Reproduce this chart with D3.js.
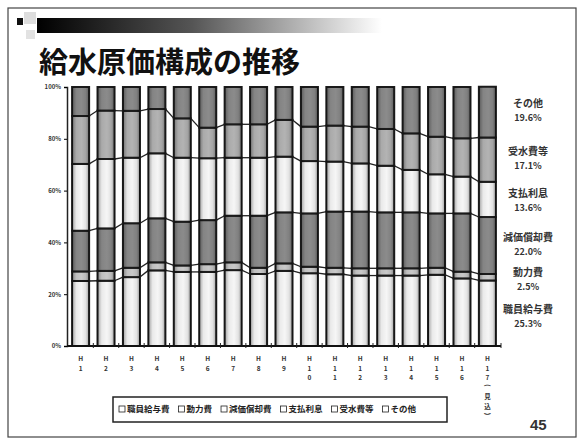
<!doctype html>
<meta charset="utf-8">
<style>
body { margin: 0; background: #fff; }
#chart text { font-family: "Noto Sans CJK JP", "Noto Sans", sans-serif; }
</style>
<div id="chart"></div>
<script src="https://cdn.jsdelivr.net/npm/d3@7/dist/d3.min.js"></script>
<script>
// 年度 (平成)
var years = ["H1", "H2", "H3", "H4", "H5", "H6", "H7", "H8", "H9",
    "H10", "H11", "H12", "H13", "H14", "H15", "H16", "H17(見込)"];
var seriesNames = ["職員給与費", "動力費", "減価償却費", "支払利息", "受水費等", "その他"];

// 構成比 (%)
var salary = [25.1, 25.2, 26.6, 29.2, 28.6, 28.6, 29.3, 27.8, 29.0, 28.1, 27.7, 27.2, 27.2, 27.2, 27.5, 26.1, 25.3];
var power = [3.7, 3.8, 3.6, 3.1, 2.5, 3.0, 3.0, 2.4, 2.9, 2.5, 2.5, 2.8, 2.8, 2.8, 2.7, 2.6, 2.5];
var depreciation = [15.7, 16.4, 17.2, 17.0, 16.9, 17.0, 18.0, 20.1, 19.7, 20.6, 21.7, 21.9, 21.6, 21.6, 21.0, 22.5, 22.0];
var interest = [25.8, 26.8, 25.3, 25.1, 24.7, 23.9, 22.4, 22.4, 21.5, 20.2, 19.3, 18.6, 18.0, 16.4, 15.1, 14.2, 13.6];
var purchasedWater = [18.5, 18.7, 18.1, 17.1, 15.2, 11.8, 12.9, 12.9, 14.2, 13.3, 13.9, 14.2, 14.2, 14.1, 14.5, 14.8, 17.1];
var other = [11.2, 9.1, 9.2, 8.5, 12.1, 15.7, 14.4, 14.4, 12.7, 15.3, 14.9, 15.3, 16.2, 17.9, 19.2, 19.8, 19.6];

var yTicks = [0, 20, 40, 60, 80, 100];
</script>
<script>
var width = 580, height = 443;
var fills = ["#f6f6f6", "#c9c9c9", "#8b8b8b", "#f6f6f6", "#b3b3b3", "#8b8b8b"];

var svg = d3.select("#chart").append("svg")
    .attr("width", width)
    .attr("height", height)
    .style("display", "block");

// slide frame
svg.append("rect")
    .attr("x", 8).attr("y", 8)
    .attr("width", 568).attr("height", 429)
    .attr("fill", "none")
    .attr("stroke", "#444")
    .attr("stroke-width", 1.2);

// header decoration
var defs = svg.append("defs");
var hg = defs.append("linearGradient").attr("id", "headGrad");
hg.append("stop").attr("offset", "0%").attr("stop-color", "#000");
hg.append("stop").attr("offset", "45%").attr("stop-color", "#555");
hg.append("stop").attr("offset", "100%").attr("stop-color", "#fff");
svg.append("rect").attr("x", 37).attr("y", 18).attr("width", 345).attr("height", 15)
    .attr("fill", "url(#headGrad)");
svg.append("rect").attr("x", 24).attr("y", 12).attr("width", 12).attr("height", 12).attr("fill", "#ddd");
svg.append("rect").attr("x", 26).attr("y", 30).attr("width", 9).attr("height", 9).attr("fill", "#e2e2e2");
svg.append("rect").attr("x", 17).attr("y", 18).attr("width", 6).attr("height", 7).attr("fill", "#111");

// cylinder-ish shading used on every bar
var sg = defs.append("linearGradient").attr("id", "barShade");
sg.append("stop").attr("offset", "0%").attr("stop-color", "#000").attr("stop-opacity", 0.35);
sg.append("stop").attr("offset", "25%").attr("stop-color", "#000").attr("stop-opacity", 0.05);
sg.append("stop").attr("offset", "55%").attr("stop-color", "#000").attr("stop-opacity", 0);
sg.append("stop").attr("offset", "80%").attr("stop-color", "#000").attr("stop-opacity", 0.08);
sg.append("stop").attr("offset", "100%").attr("stop-color", "#000").attr("stop-opacity", 0.35);

svg.append("text")
    .attr("x", 39).attr("y", 73)
    .attr("font-size", 29)
    .attr("font-weight", "bold")
    .attr("fill", "#111")
    .text("給水原価構成の推移");

// chart
var x = d3.scaleBand()
    .domain(years)
    .range([67, 501])
    .paddingInner(0.33)
    .paddingOuter(0.2);
var y = d3.scaleLinear()
    .domain([0, 100])
    .range([346, 87]);

var series = [salary, power, depreciation, interest, purchasedWater, other];
var rows = years.map(function (yr, i) {
    var row = { year: yr };
    seriesNames.forEach(function (name, k) { row[name] = series[k][i]; });
    return row;
});
var stacked = d3.stack().keys(seriesNames)(rows);

// series lines between bars
var bw = x.bandwidth();
var lineG = svg.append("g");
stacked.slice(0, 5).forEach(function (layer) {
    for (var i = 0; i < layer.length - 1; i++) {
        lineG.append("line")
            .attr("x1", x(years[i]) + bw).attr("y1", y(layer[i][1]))
            .attr("x2", x(years[i + 1])).attr("y2", y(layer[i + 1][1]))
            .attr("stroke", "#222")
            .attr("stroke-width", 1.3);
    }
});

var layers = svg.append("g").selectAll("g")
    .data(stacked)
    .join("g")
    .attr("fill", function (d, k) { return fills[k]; });
layers.selectAll("rect")
    .data(function (d) { return d; })
    .join("rect")
    .attr("x", function (d) { return x(d.data.year); })
    .attr("y", function (d) { return y(d[1]); })
    .attr("width", bw)
    .attr("height", function (d) { return y(d[0]) - y(d[1]); });

// shading + outlines on top
svg.append("g").selectAll("rect")
    .data(years)
    .join("rect")
    .attr("x", function (d) { return x(d); })
    .attr("y", y(100))
    .attr("width", bw)
    .attr("height", y(0) - y(100))
    .attr("fill", "url(#barShade)");
layers.selectAll("rect.edge")
    .data(function (d) { return d; })
    .join("rect")
    .attr("class", "edge")
    .attr("x", function (d) { return x(d.data.year); })
    .attr("y", function (d) { return y(d[1]); })
    .attr("width", bw)
    .attr("height", function (d) { return y(d[0]) - y(d[1]); })
    .attr("fill", "none")
    .attr("stroke", "#1b1b1b")
    .attr("stroke-width", 2);

// y axis
var yAxis = svg.append("g")
    .attr("transform", "translate(67,0)")
    .call(d3.axisLeft(y).tickValues(yTicks).tickSize(3).tickFormat(function (d) { return d + "%"; }));
yAxis.select(".domain").attr("stroke", "#222").attr("stroke-width", 1.5);
yAxis.selectAll("text").attr("font-size", 6).attr("font-weight", "bold").attr("fill", "#333");

// x axis baseline and ticks between categories
var half = (x.step() - bw) / 2;
svg.append("line")
    .attr("x1", 67).attr("x2", 501)
    .attr("y1", y(0)).attr("y2", y(0))
    .attr("stroke", "#111").attr("stroke-width", 2);
svg.append("g").selectAll("line")
    .data(years.slice(1).concat(["end"]))
    .join("line")
    .attr("x1", function (d, i) { return i < years.length - 1 ? x(d) - half : 501; })
    .attr("x2", function (d, i) { return i < years.length - 1 ? x(d) - half : 501; })
    .attr("y1", y(0) - 3).attr("y2", y(0) + 2)
    .attr("stroke", "#222");

// vertical x labels
var xl = svg.append("g").selectAll("g")
    .data(years)
    .join("g")
    .attr("transform", function (d) { return "translate(" + (x(d) + bw / 2) + ",0)"; });
xl.each(function (d) {
    var g = d3.select(this);
    var chars = Array.from(d);
    chars.forEach(function (c, j) {
        var yy = 359 + j * 9.5;
        var t = g.append("text")
            .attr("text-anchor", "middle")
            .attr("font-size", 6.5)
            .attr("font-weight", "bold")
            .attr("fill", "#333")
            .text(c);
        if (c === "(" || c === ")") {
            t.attr("transform", "translate(0," + (yy - 2) + ") rotate(90)").attr("dy", "0.35em");
        } else {
            t.attr("y", yy + 2);
        }
    });
});

// labels for the last year on the right
var last = years.length - 1;
var rightLabels = [
    { k: 5, y: 103 }, { k: 4, y: 151 }, { k: 3, y: 193 },
    { k: 2, y: 237 }, { k: 1, y: 272 }, { k: 0, y: 309 }
];
var rl = svg.append("g").selectAll("g")
    .data(rightLabels)
    .join("g")
    .attr("transform", function (d) { return "translate(528," + d.y + ")"; });
rl.append("text")
    .attr("text-anchor", "middle")
    .attr("dy", "0.35em")
    .attr("font-size", 10)
    .attr("font-weight", "bold")
    .attr("fill", "#333")
    .text(function (d) { return seriesNames[d.k]; });
rl.append("text")
    .attr("text-anchor", "middle")
    .attr("y", 15)
    .attr("dy", "0.35em")
    .attr("font-size", 9)
    .attr("font-weight", "bold")
    .attr("fill", "#333")
    .text(function (d) { return series[d.k][last].toFixed(1) + "%"; });

// legend
var lg = svg.append("g");
lg.append("rect")
    .attr("x", 113).attr("y", 397)
    .attr("width", 334).attr("height", 25)
    .attr("fill", "#fff")
    .attr("stroke", "#222")
    .attr("stroke-width", 1.5);
var lx = 119;
seriesNames.forEach(function (name, k) {
    lg.append("rect")
        .attr("x", lx).attr("y", 406)
        .attr("width", 6).attr("height", 6)
        .attr("fill", "#fff")
        .attr("stroke", "#222")
        .attr("stroke-width", 0.8);
    var t = lg.append("text")
        .attr("x", lx + 8).attr("y", 409.5)
        .attr("dy", "0.35em")
        .attr("font-size", 8.5)
        .attr("font-weight", "bold")
        .attr("fill", "#222")
        .text(name);
    lx += 8 + t.node().getComputedTextLength() + 9;
});

// page number
svg.append("text")
    .attr("x", 530).attr("y", 430)
    .attr("font-size", 15)
    .attr("font-weight", "bold")
    .attr("fill", "#333")
    .style("font-family", "Liberation Sans, Arial, sans-serif")
    .text("45");
</script>
